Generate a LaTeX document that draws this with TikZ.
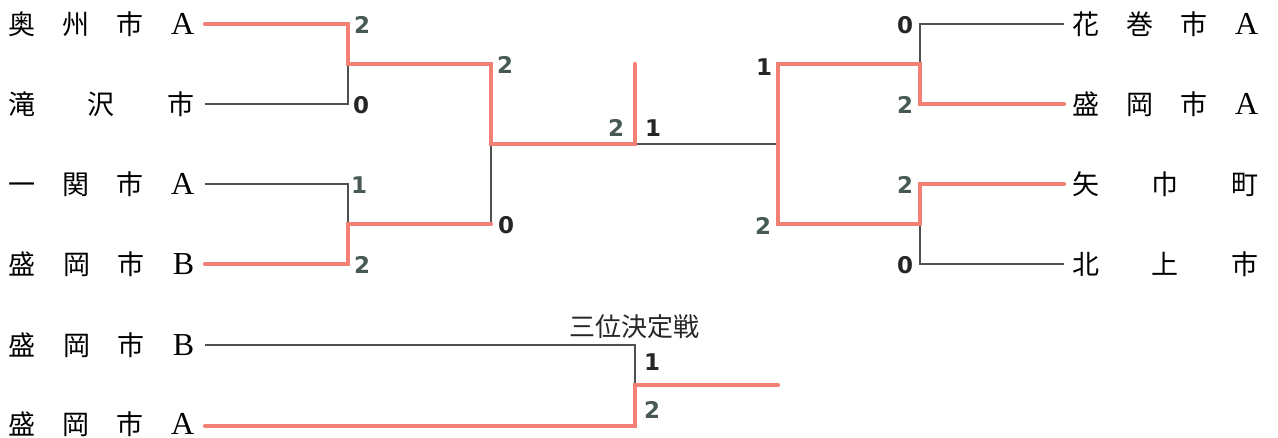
\documentclass[tikz,border=0pt]{standalone}
\usepackage{fontspec}
\setmainfont{Liberation Serif}
\newfontfamily\cjk{Noto Sans CJK JP}
\newfontfamily\numf{DejaVu Sans}
\definecolor{win}{RGB}{242,128,116}
\definecolor{lose}{RGB}{80,80,80}
\definecolor{sc}{RGB}{72,90,86}
\definecolor{sk}{RGB}{38,38,38}
\newcommand\teamtext[1]{\hbox to 186pt{#1}}
\newcommand\lat[1]{{\rmfamily\fontsize{32}{32}\selectfont #1}}
\begin{document}
\begin{tikzpicture}[x=1pt,y=-1pt,
  team/.style={inner sep=0pt, anchor=west, font=\cjk\fontsize{27}{27}\selectfont},
  score/.style={inner sep=0pt, font=\numf\bfseries\fontsize{23}{23}\selectfont, text=sc},
  scorek/.style={score, text=sk},
  winline/.style={draw=win, line width=4.2pt, line cap=round},
  loseline/.style={draw=lose, line width=1.3pt}]
\useasboundingbox (0,0) rectangle (1278,438);

% team names, left
\node[team] (L1) at (8,24) {\teamtext{奥\hfill 州\hfill 市\hfill \lat{A}}};
\node[team] (L2) at (8,104) {\teamtext{滝\hfill 沢\hfill 市}};
\node[team] (L3) at (8,184) {\teamtext{一\hfill 関\hfill 市\hfill \lat{A}}};
\node[team] (L4) at (8,264) {\teamtext{盛\hfill 岡\hfill 市\hfill \lat{B}}};
\node[team] (L5) at (8,345) {\teamtext{盛\hfill 岡\hfill 市\hfill \lat{B}}};
\node[team] (L6) at (8,424) {\teamtext{盛\hfill 岡\hfill 市\hfill \lat{A}}};
% team names, right
\node[team] (R1) at (1072,24) {\teamtext{花\hfill 巻\hfill 市\hfill \lat{A}}};
\node[team] (R2) at (1072,104) {\teamtext{盛\hfill 岡\hfill 市\hfill \lat{A}}};
\node[team] (R3) at (1072,184) {\teamtext{矢\hfill 巾\hfill 町}};
\node[team] (R4) at (1072,264) {\teamtext{北\hfill 上\hfill 市}};

% line ends next to names
\coordinate (s1) at (205,24);
\coordinate (s2) at (205,104);
\coordinate (s3) at (205,184);
\coordinate (s4) at (205,264);
\coordinate (s5) at (205,345);
\coordinate (s6) at (205,426);
\coordinate (e1) at (1064,24);
\coordinate (e2) at (1064,104);
\coordinate (e3) at (1064,184);
\coordinate (e4) at (1064,264);
% junctions
\coordinate (a1) at (348,64);
\coordinate (a2) at (348,224);
\coordinate (b1) at (491,144);
\coordinate (c1) at (635,144);
\coordinate (ctop) at (635,64);
\coordinate (d1) at (778,144);
\coordinate (f1) at (920,64);
\coordinate (f2) at (920,224);
\coordinate (t1) at (635,385);
\coordinate (tend) at (778,385);

% losing lines (thin)
\draw[loseline] (s2) -| (a1);
\draw[loseline] (s3) -| (a2);
\draw[loseline] (b1) |- (a2 -| b1);
\draw[loseline] (c1) -- (d1) |- (f1);
\draw[loseline] (e1) -| (f1);
\draw[loseline] (e4) -| (f2);
\draw[loseline] (s5) -| (t1);
% winning lines (thick)
\draw[winline] (s1) -| (a1) -- (a1 -| b1) -- (b1) -- (c1) -- (ctop);
\draw[winline] (s4) -| (a2) -- (a2 -| b1);
\draw[winline] (e2) -| (f1) -- (f1 -| d1) |- (f2);
\draw[winline] (e3) -| (f2);
\draw[winline] (s6) -| (t1) -- (tend);

% scores
\node[score] (p1) at (362,25) {2};
\node[scorek] (p2) at (361,105) {0};
\node[score] (p3) at (359,185) {1};
\node[score] (p4) at (362,265) {2};
\node[score] (q1) at (505,65) {2};
\node[scorek] (q2) at (506,225) {0};
\node[score] (m1) at (616,128) {2};
\node[scorek] (m2) at (653,128) {1};
\node[scorek] (r1) at (764,67) {1};
\node[score] (r2) at (763,226) {2};
\node[scorek] (u1) at (905,25) {0};
\node[score] (u2) at (905,105) {2};
\node[score] (u3) at (905,185) {2};
\node[scorek] (u4) at (905,265) {0};
\node[scorek] (v1) at (652,362) {1};
\node[score] (v2) at (652,410) {2};

\node[inner sep=0pt, font=\cjk\fontsize{26}{26}\selectfont, text=sk] (title) at (634,327) {三位決定戦};
\end{tikzpicture}
\end{document}
